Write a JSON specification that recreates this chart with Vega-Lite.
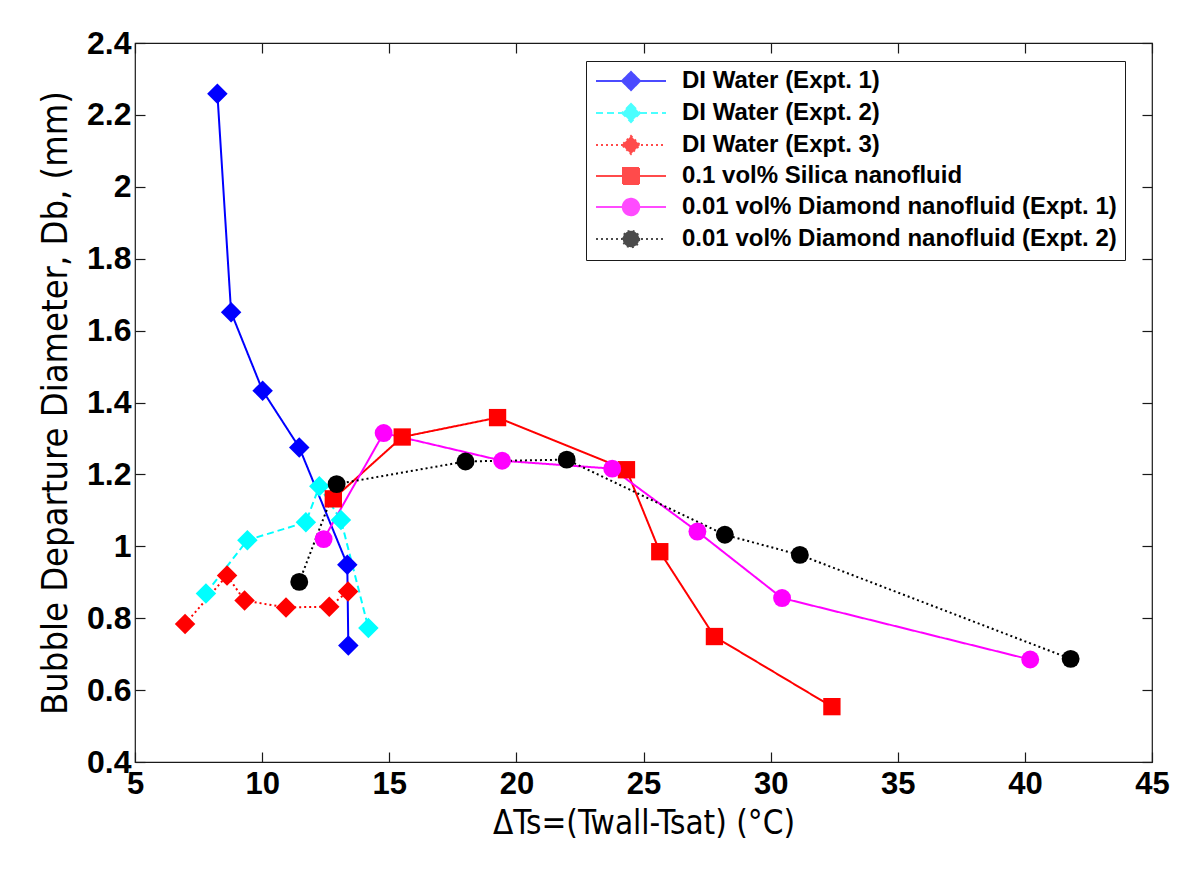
{
  "$schema": "https://vega.github.io/schema/vega-lite/v6.json",
  "width": 1017,
  "height": 719,
  "autosize": {"type": "none"},
  "padding": {"left": 135, "top": 43, "right": 48, "bottom": 118},
  "background": "white",
  "config": {
    "view": {"stroke": "#1a1a1a", "strokeWidth": 1.2},
    "axis": {"grid": false, "domain": false, "tickColor": "#1a1a1a", "tickWidth": 1.2},
    "legend": {"title": null, "orient": "none", "legendX": 451, "legendY": 18, "padding": 8, "rowPadding": 6,
      "strokeColor": "#1a1a1a", "fillColor": "white", "symbolSize": 400, "symbolStrokeWidth": 2, "labelOffset": 64,
      "labelFont": "Liberation Sans", "labelFontWeight": "bold", "labelFontSize": 24, "labelColor": "#000", "labelLimit": 0}
  },
  "datasets": {
    "main": [
      {"s": "DI Water (Expt. 1)", "o": 1, "x": 8.24, "y": 2.259},
      {"s": "DI Water (Expt. 1)", "o": 2, "x": 8.78, "y": 1.651},
      {"s": "DI Water (Expt. 1)", "o": 3, "x": 10.02, "y": 1.433},
      {"s": "DI Water (Expt. 1)", "o": 4, "x": 11.46, "y": 1.275},
      {"s": "DI Water (Expt. 1)", "o": 5, "x": 13.35, "y": 0.949},
      {"s": "DI Water (Expt. 1)", "o": 6, "x": 13.39, "y": 0.724},
      {"s": "DI Water (Expt. 2)", "o": 1, "x": 7.79, "y": 0.869},
      {"s": "DI Water (Expt. 2)", "o": 2, "x": 9.42, "y": 1.017},
      {"s": "DI Water (Expt. 2)", "o": 3, "x": 11.72, "y": 1.067},
      {"s": "DI Water (Expt. 2)", "o": 4, "x": 12.25, "y": 1.167},
      {"s": "DI Water (Expt. 2)", "o": 5, "x": 13.1, "y": 1.073},
      {"s": "DI Water (Expt. 2)", "o": 6, "x": 14.18, "y": 0.773},
      {"s": "DI Water (Expt. 3)", "o": 1, "x": 6.97, "y": 0.784},
      {"s": "DI Water (Expt. 3)", "o": 2, "x": 8.62, "y": 0.919},
      {"s": "DI Water (Expt. 3)", "o": 3, "x": 9.31, "y": 0.849},
      {"s": "DI Water (Expt. 3)", "o": 4, "x": 10.94, "y": 0.83},
      {"s": "DI Water (Expt. 3)", "o": 5, "x": 12.64, "y": 0.832},
      {"s": "DI Water (Expt. 3)", "o": 6, "x": 13.38, "y": 0.874},
      {"s": "0.1 vol% Silica nanofluid", "o": 1, "x": 12.8, "y": 1.132},
      {"s": "0.1 vol% Silica nanofluid", "o": 2, "x": 15.51, "y": 1.304},
      {"s": "0.1 vol% Silica nanofluid", "o": 3, "x": 19.26, "y": 1.358},
      {"s": "0.1 vol% Silica nanofluid", "o": 4, "x": 24.33, "y": 1.213},
      {"s": "0.1 vol% Silica nanofluid", "o": 5, "x": 25.64, "y": 0.985},
      {"s": "0.1 vol% Silica nanofluid", "o": 6, "x": 27.79, "y": 0.749},
      {"s": "0.1 vol% Silica nanofluid", "o": 7, "x": 32.41, "y": 0.554},
      {"s": "0.01 vol% Diamond nanofluid (Expt. 1)", "o": 1, "x": 12.42, "y": 1.02},
      {"s": "0.01 vol% Diamond nanofluid (Expt. 1)", "o": 2, "x": 14.78, "y": 1.315},
      {"s": "0.01 vol% Diamond nanofluid (Expt. 1)", "o": 3, "x": 19.44, "y": 1.238},
      {"s": "0.01 vol% Diamond nanofluid (Expt. 1)", "o": 4, "x": 23.77, "y": 1.216},
      {"s": "0.01 vol% Diamond nanofluid (Expt. 1)", "o": 5, "x": 27.12, "y": 1.041},
      {"s": "0.01 vol% Diamond nanofluid (Expt. 1)", "o": 6, "x": 30.45, "y": 0.856},
      {"s": "0.01 vol% Diamond nanofluid (Expt. 1)", "o": 7, "x": 40.21, "y": 0.685},
      {"s": "0.01 vol% Diamond nanofluid (Expt. 2)", "o": 1, "x": 11.46, "y": 0.901},
      {"s": "0.01 vol% Diamond nanofluid (Expt. 2)", "o": 2, "x": 12.93, "y": 1.173},
      {"s": "0.01 vol% Diamond nanofluid (Expt. 2)", "o": 3, "x": 18.0, "y": 1.236},
      {"s": "0.01 vol% Diamond nanofluid (Expt. 2)", "o": 4, "x": 21.98, "y": 1.241},
      {"s": "0.01 vol% Diamond nanofluid (Expt. 2)", "o": 5, "x": 28.2, "y": 1.032},
      {"s": "0.01 vol% Diamond nanofluid (Expt. 2)", "o": 6, "x": 31.15, "y": 0.976},
      {"s": "0.01 vol% Diamond nanofluid (Expt. 2)", "o": 7, "x": 41.8, "y": 0.687}
    ]
  },
  "data": {"name": "main"},
  "layer": [
    {
      "layer": [
        {
          "transform": [{"filter": "false"}],
          "mark": {"type": "point", "filled": true},
          "encoding": {
            "x": {"field": "x", "type": "quantitative", "scale": {"domain": [5, 45], "nice": false, "zero": false},
              "axis": {"orient": "bottom", "values": [5, 10, 15, 20, 25, 30, 35, 40, 45], "tickSize": -10, "labelPadding": 17,
                "labelFont": "Liberation Sans", "labelFontWeight": "bold", "labelFontSize": 31, "labelColor": "#000", "labelFlush": false, "labelOverlap": false,
                "title": "ΔTs=(Twall-Tsat) (°C)", "titleFont": "DejaVu Sans Condensed, sans-serif", "titleFontSize": 33, "titleFontWeight": "normal", "titleColor": "#000", "titlePadding": 8}},
            "y": {"field": "y", "type": "quantitative", "scale": {"domain": [0.4, 2.4], "nice": false, "zero": false},
              "axis": {"orient": "left", "values": [0.4, 0.6, 0.8, 1, 1.2, 1.4, 1.6, 1.8, 2, 2.2, 2.4], "format": "~g", "tickSize": -10, "labelPadding": 14,
                "labelFont": "Liberation Sans", "labelFontWeight": "bold", "labelFontSize": 32, "labelColor": "#000", "labelFlush": false, "labelOverlap": false,
                "title": "Bubble Departure Diameter, Db, (mm)", "titleFont": "DejaVu Sans Condensed, sans-serif", "titleFontSize": 36, "titleFontWeight": "normal", "titleColor": "#000", "titlePadding": 12}},
            "color": {"field": "s", "type": "nominal",
              "scale": {"domain": ["DI Water (Expt. 1)", "DI Water (Expt. 2)", "DI Water (Expt. 3)", "0.1 vol% Silica nanofluid", "0.01 vol% Diamond nanofluid (Expt. 1)", "0.01 vol% Diamond nanofluid (Expt. 2)"],
                "range": ["#0000ff", "#00ffff", "#ff0000", "#ff0000", "#ff00ff", "#000000"]},
              "legend": {"orient": "none", "legendX": 451, "legendY": 18,
                "encode": {"symbols": {"update": {"stroke": {"scale": "color", "field": "value"}, "fill": {"scale": "color", "field": "value"}, "strokeWidth": {"value": 2}, "opacity": {"value": 1}}}}}},
            "shape": {"field": "s", "type": "nominal",
              "scale": {"domain": ["DI Water (Expt. 1)", "DI Water (Expt. 2)", "DI Water (Expt. 3)", "0.1 vol% Silica nanofluid", "0.01 vol% Diamond nanofluid (Expt. 1)", "0.01 vol% Diamond nanofluid (Expt. 2)"],
                "range": [
                  "M-1,0H6M2.5,-0.9L3.4,0L2.5,0.9L1.6,0Z",
                  "M-1,0H6M2.5,-0.9L3.4,0L2.5,0.9L1.6,0Z",
                  "M-1,0H6M2.5,-0.9L3.4,0L2.5,0.9L1.6,0Z",
                  "M-1,0H6M1.7,-0.8H3.3V0.8H1.7Z",
                  "M-1,0H6M3.32,0A0.82,0.82,0,1,1,1.68,0A0.82,0.82,0,1,1,3.32,0Z",
                  "M-1,0H6M3.32,0A0.82,0.82,0,1,1,1.68,0A0.82,0.82,0,1,1,3.32,0Z"
                ]},
              "legend": {"orient": "none", "legendX": 451, "legendY": 18,
                "encode": {"symbols": {"update": {"stroke": {"scale": "color", "field": "value"}, "fill": {"scale": "color", "field": "value"}, "strokeWidth": {"value": 2}, "opacity": {"value": 1}}}}}},
            "strokeDash": {"field": "s", "type": "nominal",
              "scale": {"domain": ["DI Water (Expt. 1)", "DI Water (Expt. 2)", "DI Water (Expt. 3)", "0.1 vol% Silica nanofluid", "0.01 vol% Diamond nanofluid (Expt. 1)", "0.01 vol% Diamond nanofluid (Expt. 2)"],
                "range": [[1, 0], [7, 4], [2, 3], [1, 0], [1, 0], [2, 3]]},
              "legend": {"orient": "none", "legendX": 451, "legendY": 18,
                "encode": {"symbols": {"update": {"stroke": {"scale": "color", "field": "value"}, "fill": {"scale": "color", "field": "value"}, "strokeWidth": {"value": 2}, "opacity": {"value": 1}}}}}}
          }
        },
        {
          "mark": {"type": "line", "strokeWidth": 2},
          "encoding": {
            "x": {"field": "x", "type": "quantitative"},
            "y": {"field": "y", "type": "quantitative"},
            "color": {"field": "s", "type": "nominal"},
            "strokeDash": {"field": "s", "type": "nominal"},
            "order": {"field": "o", "type": "quantitative"}
          }
        },
        {
          "transform": [{"filter": "indexof(datum.s, 'DI Water') >= 0"}],
          "mark": {"type": "point", "shape": "diamond", "filled": true, "size": 420, "opacity": 1},
          "encoding": {
            "x": {"field": "x", "type": "quantitative"},
            "y": {"field": "y", "type": "quantitative"},
            "color": {"field": "s", "type": "nominal"}
          }
        },
        {
          "transform": [{"filter": "indexof(datum.s, 'Silica') >= 0"}],
          "mark": {"type": "point", "shape": "square", "filled": true, "size": 300, "opacity": 1},
          "encoding": {
            "x": {"field": "x", "type": "quantitative"},
            "y": {"field": "y", "type": "quantitative"},
            "color": {"field": "s", "type": "nominal"}
          }
        },
        {
          "transform": [{"filter": "indexof(datum.s, 'Diamond') >= 0"}],
          "mark": {"type": "point", "shape": "circle", "filled": true, "size": 320, "opacity": 1},
          "encoding": {
            "x": {"field": "x", "type": "quantitative"},
            "y": {"field": "y", "type": "quantitative"},
            "color": {"field": "s", "type": "nominal"}
          }
        }
      ]
    },
    {
      "mark": {"type": "point", "opacity": 0},
      "encoding": {
        "x": {"field": "x", "type": "quantitative", "scale": {"domain": [5, 45], "nice": false, "zero": false},
          "axis": {"orient": "top", "values": [5, 10, 15, 20, 25, 30, 35, 40, 45], "tickSize": -10, "labels": false, "title": null}},
        "y": {"field": "y", "type": "quantitative", "scale": {"domain": [0.4, 2.4], "nice": false, "zero": false},
          "axis": {"orient": "right", "values": [0.4, 0.6, 0.8, 1, 1.2, 1.4, 1.6, 1.8, 2, 2.2, 2.4], "tickSize": -10, "labels": false, "title": null}}
      }
    }
  ],
  "resolve": {"scale": {"x": "independent", "y": "independent"}}
}
